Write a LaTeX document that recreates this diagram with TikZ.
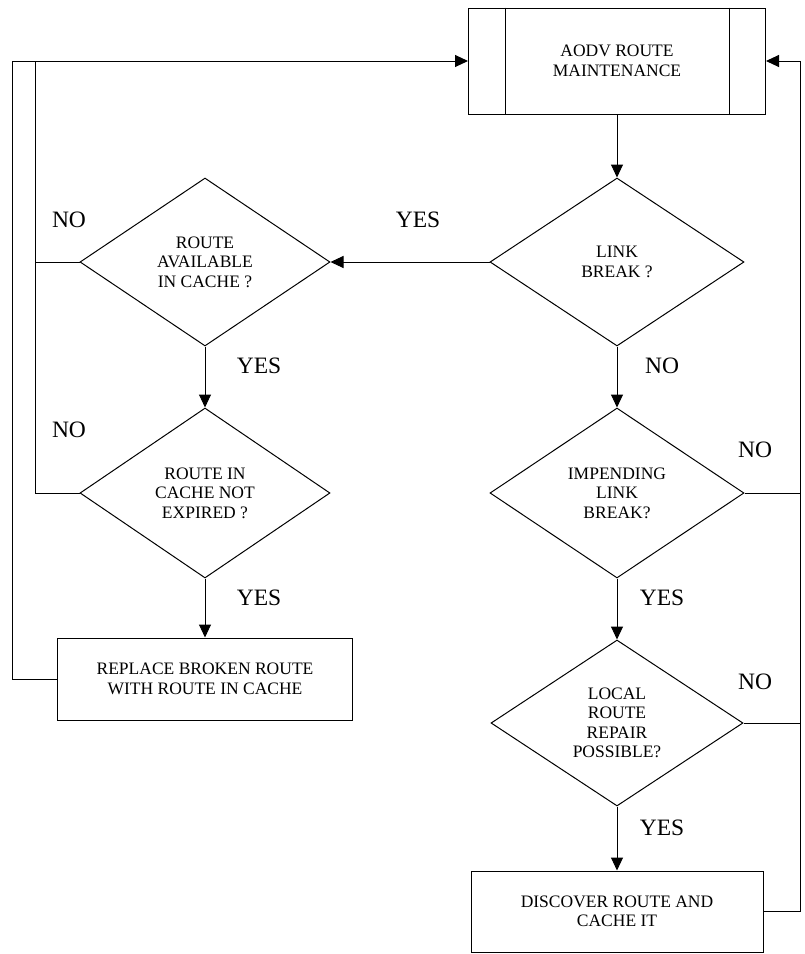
\documentclass[tikz,border=0pt]{standalone}
\usepackage{fontspec}
\setmainfont{Liberation Serif}
\usetikzlibrary{shapes.geometric,arrows.meta}
\begin{document}
\begin{tikzpicture}[x=1pt,y=-1pt,line width=1pt,
		decision/.style={diamond,draw,inner sep=0pt,align=center,font=\fontsize{17.5}{19.5}\selectfont},
		process/.style={rectangle,draw,inner sep=0pt,align=center,font=\fontsize{17.5}{19.5}\selectfont},
		answer/.style={font=\fontsize{23.5}{26}\selectfont},
		flow/.style={-{Triangle[length=13pt,width=12pt]}}]
		\useasboundingbox (0,0) rectangle (804,954);
		% right column
		\node[process,minimum width=297pt,minimum height=106pt] (maint) at (617,61) {AODV ROUTE\\MAINTENANCE};
		\draw ([xshift=37pt]maint.north west) -- ([xshift=37pt]maint.south west);
		\draw ([xshift=-37pt]maint.north east) -- ([xshift=-37pt]maint.south east);
		\node[decision,minimum width=254pt,minimum height=168pt] (brk) at (617,262) {LINK\\BREAK ?};
		\node[decision,minimum width=254pt,minimum height=170pt] (impend) at (617,493) {IMPENDING\\LINK\\BREAK?};
		\node[decision,minimum width=252pt,minimum height=166pt] (repair) at (617,723) {LOCAL\\ROUTE\\REPAIR\\POSSIBLE?};
		\node[process,minimum width=292pt,minimum height=81pt] (discover) at (617,911.5) {DISCOVER ROUTE AND\\CACHE IT};
		% left column
		\node[decision,minimum width=250pt,minimum height=168pt] (avail) at (205,262) {ROUTE\\AVAILABLE\\IN CACHE ?};
		\node[decision,minimum width=250pt,minimum height=170pt] (valid) at (205,493) {ROUTE IN\\CACHE NOT\\EXPIRED ?};
		\node[process,minimum width=295pt,minimum height=82pt] (replace) at (205,679) {REPLACE BROKEN ROUTE\\WITH ROUTE IN CACHE};
		% loop corners
		\coordinate (lout) at (12,61);
		\coordinate (lin) at (35,61);
		\coordinate (rout) at (800,61);
		% main flow
		\draw[flow] (maint.south) -- (brk.north);
		\draw[flow] (brk.west) -- (avail.east);
		\draw[flow] (avail.south) -- (valid.north);
		\draw[flow] (valid.south) -- (replace.north);
		\draw[flow] (brk.south) -- (impend.north);
		\draw[flow] (impend.south) -- (repair.north);
		\draw[flow] (repair.south) -- (discover.north);
		% return paths
		\draw[flow] (replace.west) -| (lout) -- (maint.west);
		\draw (valid.west) -| (lin);
		\draw (avail.west) -- (avail.west -| lin);
		\draw[flow] (discover.east) -| (rout) -- (maint.east);
		\draw (impend.east) -- (impend.east -| rout);
		\draw (repair.east) -- (repair.east -| rout);
		% labels
		\node[answer] (l1) at (418,220) {YES};
		\node[answer] (l2) at (69,220) {NO};
		\node[answer] (l3) at (69,430) {NO};
		\node[answer] (l4) at (259,366) {YES};
		\node[answer] (l5) at (259,598) {YES};
		\node[answer] (l6) at (662,366) {NO};
		\node[answer] (l7) at (755,450) {NO};
		\node[answer] (l8) at (662,598) {YES};
		\node[answer] (l9) at (755,682) {NO};
		\node[answer] (l10) at (662,828) {YES};
	\end{tikzpicture}
\end{document}
